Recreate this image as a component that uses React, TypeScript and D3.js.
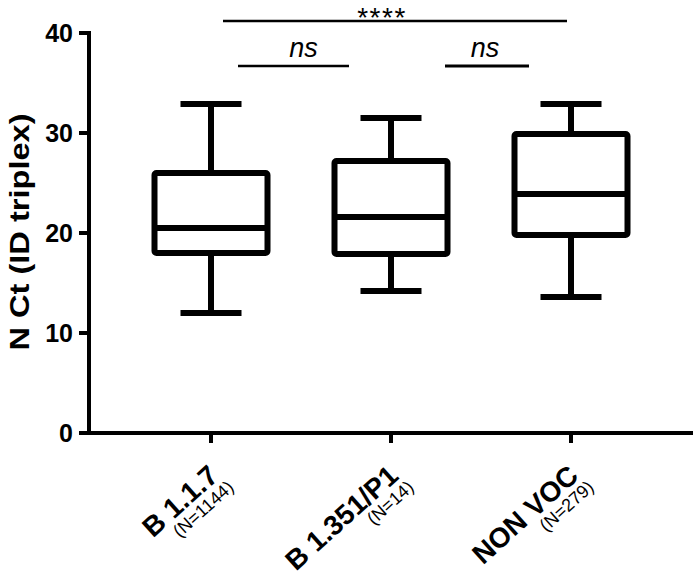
import React from "react";
import * as d3 from "d3";

const categories = ["B 1.1.7", "B 1.351/P1", "NON VOC"];
const counts = ["(N=1144)", "(N=14)", "(N=279)"];
const whiskerLow = [12.0, 14.2, 13.6];
const q1 = [18.0, 17.9, 19.8];
const median = [20.5, 21.6, 23.9];
const q3 = [26.0, 27.2, 29.9];
const whiskerHigh = [32.9, 31.5, 32.9];
const yTicks = [0, 10, 20, 30, 40];
const comparisons = [
  { from: 0, to: 2, label: "****" },
  { from: 0, to: 1, label: "ns" },
  { from: 1, to: 2, label: "ns" },
];
// visual placement of the comparison brackets (style only)
const bracketStyle = [
  { l: 12, r: -4, y: 21, ty: 27, tdx: -13, size: 28, italic: false, sw: 2.6, ls: 1.5 },
  { l: 27, r: -42, y: 66, ty: 57, tdx: 10, size: 27, italic: true, sw: 2.4, ls: 0 },
  { l: 54, r: -42, y: 66, ty: 57, tdx: -2, size: 27, italic: true, sw: 3.2, ls: 0 },
];

export default function App() {
  const W = 693, H = 577;
  const x0 = 89, yBottom = 433;
  const y = d3.scaleLinear().domain([0, 40]).range([yBottom, 33]);
  const x = d3.scalePoint<string>().domain(categories).range([211, 571]);
  const boxW = 113, capW = 61;
  const font = "Liberation Sans, Arial, sans-serif";
  const sw = 6;
  const ang = -42;

  return (
    <svg width={W} height={H} style={{ position: "absolute", left: 0, top: 0 }} fontFamily={font}>
      <rect width={W} height={H} fill="#fff" />
      {/* y axis */}
      <line x1={x0} x2={x0} y1={y(40) - 2} y2={yBottom + 2} stroke="#000" strokeWidth={4} />
      {yTicks.map((t) => (
        <g key={t}>
          <line x1={x0 - 10} x2={x0} y1={y(t)} y2={y(t)} stroke="#000" strokeWidth={4} />
          <text x={x0 - 16} y={y(t)} dy="0.36em" textAnchor="end" fontWeight="bold" fontSize={25}>{t}</text>
        </g>
      ))}
      <text transform={`translate(29,${232}) rotate(-90)`} textAnchor="middle" fontWeight="bold" fontSize={28} textLength={237} lengthAdjust="spacingAndGlyphs">N Ct (ID triplex)</text>
      {/* x axis */}
      <line x1={x0 - 2} x2={W} y1={yBottom} y2={yBottom} stroke="#000" strokeWidth={4} />
      {categories.map((c, i) => {
        const cx = x(c)!;
        return (
          <g key={c}>
            <line x1={cx} x2={cx} y1={yBottom} y2={yBottom + 10} stroke="#000" strokeWidth={4} />
            <g transform={`translate(${cx + 9},${yBottom + 45}) rotate(${ang})`}>
              <text x={0} y={0} textAnchor="end" fontWeight="bold" fontSize={28}>{c}</text>
              <text x={4} y={18} textAnchor="end" fontSize={18}>{counts[i]}</text>
            </g>
          </g>
        );
      })}
      {/* boxes */}
      {categories.map((c, i) => {
        const cx = x(c)!;
        return (
          <g key={"b" + c} stroke="#000" strokeWidth={sw} fill="none" strokeLinejoin="round">
            <line x1={cx} x2={cx} y1={y(whiskerHigh[i])} y2={y(q3[i])} />
            <line x1={cx} x2={cx} y1={y(q1[i])} y2={y(whiskerLow[i])} />
            <line x1={cx - capW / 2} x2={cx + capW / 2} y1={y(whiskerHigh[i])} y2={y(whiskerHigh[i])} />
            <line x1={cx - capW / 2} x2={cx + capW / 2} y1={y(whiskerLow[i])} y2={y(whiskerLow[i])} />
            <rect x={cx - boxW / 2} y={y(q3[i])} width={boxW} height={y(q1[i]) - y(q3[i])} rx={2} />
            <line x1={cx - boxW / 2} x2={cx + boxW / 2} y1={y(median[i])} y2={y(median[i])} />
          </g>
        );
      })}
      {/* significance */}
      {comparisons.map((cmp, k) => {
        const s = bracketStyle[k];
        const x1 = x(categories[cmp.from])! + s.l;
        const x2 = x(categories[cmp.to])! + s.r;
        const mid = (x1 + x2) / 2;
        return (
          <g key={k}>
            <line x1={x1} x2={x2} y1={s.y} y2={s.y} stroke="#000" strokeWidth={s.sw} />
            <text x={mid + s.tdx} y={s.ty} textAnchor="middle" fontSize={s.size} letterSpacing={s.ls} fontStyle={s.italic ? "italic" : "normal"}>{cmp.label}</text>
          </g>
        );
      })}
    </svg>
  );
}
